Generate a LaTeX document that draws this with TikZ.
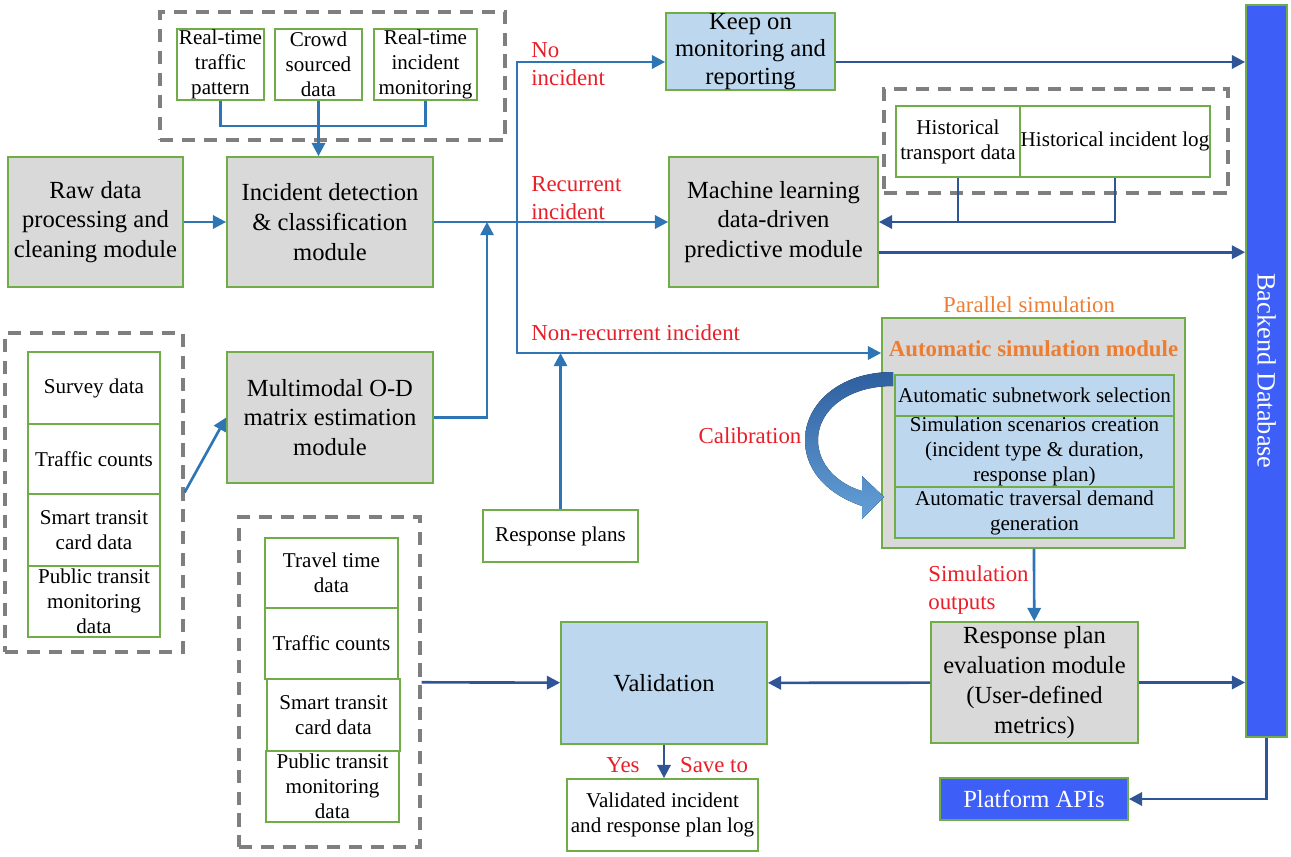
\documentclass[tikz,border=0pt]{standalone}
\usepackage{fontspec}
\setmainfont{Liberation Serif}
\usetikzlibrary{arrows.meta}
\definecolor{boxgreen}{RGB}{112,173,71}
\definecolor{modgray}{RGB}{217,217,217}
\definecolor{paleblue}{RGB}{189,215,238}
\definecolor{linkblue}{RGB}{46,117,182}
\definecolor{darkblue}{RGB}{47,85,151}
\definecolor{dbblue}{RGB}{61,94,247}
\definecolor{lblred}{RGB}{232,30,40}
\definecolor{simorange}{RGB}{237,125,49}
\definecolor{dashgray}{RGB}{127,127,127}
\definecolor{calibdark}{RGB}{46,95,160}
\definecolor{caliblight}{RGB}{100,160,215}
\tikzset{every node/.style={inner sep=0pt,align=center},
  box/.style={draw=boxgreen,line width=1pt},
  module/.style={box,fill=modgray,font=\fontsize{14}{17}\selectfont},
  datum/.style={box,fill=white,font=\fontsize{12}{14.2}\selectfont},
  subbox/.style={box,fill=paleblue,font=\fontsize{12}{14.2}\selectfont},
  dashbox/.style={draw=dashgray,line width=1.8pt,dash pattern=on 7.5pt off 5pt},
  link/.style={draw=linkblue,line width=1.5pt,-{Triangle[length=7.5pt,width=7.5pt]}},
  wire/.style={draw=linkblue,line width=1.5pt},
  dlink/.style={draw=darkblue,line width=1.5pt,-{Triangle[length=7.5pt,width=7.5pt]}},
  dwire/.style={draw=darkblue,line width=1.5pt},
  lbl/.style={text=lblred,font=\fontsize{13}{16}\selectfont,align=left}}

\begin{document}
\begin{tikzpicture}[x=0.02cm,y=-0.02cm]
      \useasboundingbox (0,0) rectangle (1291,856);
      \node[dashbox,minimum width=6.9cm,minimum height=2.56cm] (topd) at (332.5,76) {};
      \node[datum,minimum width=1.74cm,minimum height=1.42cm] (rtp) at (220.5,64.5) {Real-time\\traffic\\pattern};
      \node[datum,minimum width=1.74cm,minimum height=1.42cm] (csd) at (318.5,64.5) {Crowd\\sourced\\data};
      \node[datum,minimum width=2.06cm,minimum height=1.42cm] (rim) at (425.5,64.5) {Real-time\\incident\\monitoring};
      \node[module,minimum width=3.5cm,minimum height=2.6cm] (raw) at (95.5,222) {Raw data\\processing and\\cleaning module};
      \node[module,minimum width=4.12cm,minimum height=2.6cm] (idc) at (330,222) {Incident detection\\\& classification\\module};
      \node[module,fill=paleblue,minimum width=3.38cm,minimum height=1.54cm,font=\fontsize{14}{15.5}\selectfont] (keep) at (750.5,51.5) {Keep on\\monitoring and\\reporting};
      \node[module,minimum width=4.18cm,minimum height=2.6cm] (ml) at (773.5,222) {Machine learning\\data-driven\\predictive module};
      \node[dashbox,minimum width=6.88cm,minimum height=2.08cm] (histd) at (1056,141) {};
      \node[datum,minimum width=2.48cm,minimum height=1.42cm] (htd) at (958,141.5) {Historical\\transport data};
      \node[datum,minimum width=3.8cm,minimum height=1.42cm] (hil) at (1115,141.5) {Historical incident log};
      \node[box,fill=dbblue,text=white,font=\fontsize{15}{18}\selectfont,minimum width=0.82cm,minimum height=14.64cm] (db) at (1266.5,371) {\rotatebox{-90}{Backend Database}};

      \node[dashbox,minimum width=3.56cm,minimum height=6.38cm] (lftd) at (94,492.5) {};
      \node[datum,minimum width=2.64cm,minimum height=1.44cm] (sur) at (94,388) {Survey data};
      \node[datum,minimum width=2.64cm,minimum height=1.40cm] (tca) at (94,459) {Traffic counts};
      \node[datum,minimum width=2.64cm,minimum height=1.44cm] (stca) at (94,530) {Smart transit\\card data};
      \node[datum,minimum width=2.64cm,minimum height=1.42cm] (ptma) at (94,601.5) {Public transit\\monitoring\\data};
      \node[module,minimum width=4.12cm,minimum height=2.62cm] (od) at (330,417.5) {Multimodal O-D\\matrix estimation\\module};
      \node[datum,minimum width=3.10cm,minimum height=1.04cm] (resp) at (560.5,536) {Response plans};

      \node[lbl,text=simorange] (par) at (1029,305) {Parallel simulation};
      \node[module,minimum width=6.06cm,minimum height=4.6cm] (auto) at (1033.5,433) {};
      \node[text=simorange,font=\bfseries\fontsize{13}{16}\selectfont] (autot) at (1033.5,349) {Automatic simulation module};
      \fill[top color=calibdark,bottom color=caliblight] (893,372) .. controls (838,372) and (805,405) .. (805,440)
        .. controls (805,474) and (832,496) .. (862,506) -- (862,519) -- (884,497) -- (862,476) -- (862,491)
        .. controls (838,484) and (818,465) .. (818,440) .. controls (818,410) and (848,386) .. (893,386) -- cycle;
      \node[subbox,minimum width=5.58cm,minimum height=0.82cm] (sub1) at (1034.5,395.5) {Automatic subnetwork selection};
      \node[subbox,minimum width=5.58cm,minimum height=1.42cm] (sub2) at (1034.5,451.5) {Simulation scenarios creation\\(incident type \& duration,\\response plan)};
      \node[subbox,minimum width=5.58cm,minimum height=1.02cm] (sub3) at (1034.5,512.5) {Automatic traversal demand\\generation};
      \node[lbl] (calib) at (750,436) {Calibration};
      \node[lbl,anchor=west] (simout) at (928,590) {Simulation\\outputs};

      \node[module,minimum width=4.14cm,minimum height=2.42cm] (rpe) at (1034.5,682.5) {Response plan\\evaluation module\\(User-defined\\metrics)};
      \node[module,fill=paleblue,minimum width=4.12cm,minimum height=2.44cm] (val) at (664,683) {Validation};
      \node[dashbox,minimum width=3.62cm,minimum height=6.6cm] (midd) at (329.5,682) {};
      \node[datum,minimum width=2.66cm,minimum height=1.40cm] (ttd) at (331.5,573) {Travel time\\data};
      \node[datum,minimum width=2.66cm,minimum height=1.42cm] (tcb) at (331.5,643.5) {Traffic counts};
      \node[datum,minimum width=2.66cm,minimum height=1.44cm] (stcb) at (333.5,715) {Smart transit\\card data};
      \node[datum,minimum width=2.66cm,minimum height=1.42cm] (ptmb) at (332.5,786.5) {Public transit\\monitoring\\data};
      \node[datum,minimum width=3.82cm,minimum height=1.44cm] (vlog) at (662.5,815) {Validated incident\\and response plan log};
      \node[box,fill=dbblue,text=white,font=\fontsize{14}{17}\selectfont,minimum width=3.76cm,minimum height=0.84cm] (api) at (1034,799) {Platform APIs};

      \node[lbl,anchor=west] (noinc) at (531,64) {No\\incident};
      \node[lbl,anchor=west] (recinc) at (531,198) {Recurrent\\incident};
      \node[lbl,anchor=west] (nrinc) at (531,333) {Non-recurrent incident};
      \node[lbl] (yes) at (623,765) {Yes};
      \node[lbl] (saveto) at (714,765) {Save to};

      \coordinate (bus) at (320,126);
      \coordinate (split) at (517,222);
      \coordinate (nrec) at (517,353);
      \coordinate (odj) at (487,222);

\foreach \a/\b in {raw/idc,idc/ml,auto/rpe}
  \draw[link] (\a) -- (\b);
\foreach \a/\b in {rpe/val,midd/val}
  \draw[dlink] (\a) -- (\b);
      \draw[wire] (rtp.south) |- (bus) -| (rim.south);
      \draw[link] (csd.south) -- (csd.south |- idc.north);
      \draw[link] (split) |- (keep.187);
      \draw[link] (split) -- (nrec) -- (nrec -| auto.west);
      \draw[link] (od.east) -| (odj);
      \draw[link] (resp.north) -- (resp.north |- nrec);
      \draw[link] (lftd.east) -- (od.west);
      \draw[dlink] (keep.-7) -- (keep.-7 -| db.west);
      \draw[dwire] (htd.south) -- (htd.south |- ml.east);
      \draw[dlink] (hil.south) |- (ml.east);
      \draw[dlink] (ml.-16) -- (ml.-16 -| db.west);
      \draw[dlink] (rpe.east) -- (rpe.east -| db.west);
      \draw[dlink] (val.south) -- (val.south |- vlog.north);
      \draw[dlink] (db.south) |- (api.east);
    \end{tikzpicture}
\end{document}
